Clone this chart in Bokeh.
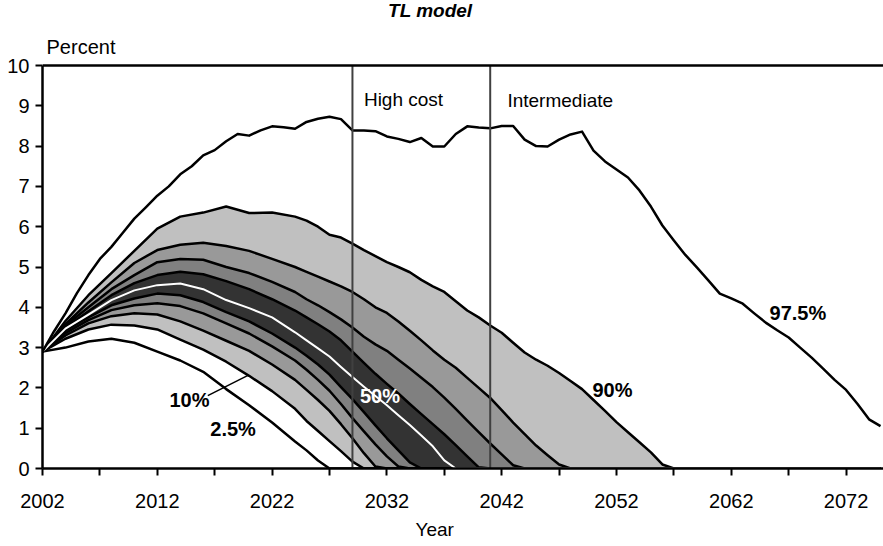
from bokeh.plotting import figure
from bokeh.models import Range1d, FixedTicker, Span, Label, Title
from bokeh.embed import file_html
from bokeh.resources import INLINE

# ---------------- data ----------------
fan_years = [2002, 2004, 2006, 2008, 2010, 2012, 2014, 2016, 2018, 2020, 2022, 2024,
             2025, 2026, 2027, 2028, 2029, 2030, 2031, 2032, 2033, 2034, 2035, 2036,
             2037, 2038, 2039, 2040, 2041, 2042, 2043, 2044, 2045, 2046, 2047, 2048,
             2049, 2050, 2051, 2052, 2053, 2054, 2055, 2056, 2057, 2058, 2075]

p2_5 = [2.9, 3.0, 3.15, 3.22, 3.12, 2.9, 2.68, 2.4, 1.97, 1.57, 1.14, 0.67,
        0.45, 0.2, 0, 0, 0, 0, 0, 0, 0, 0, 0, 0,
        0, 0, 0, 0, 0, 0, 0, 0, 0, 0, 0, 0,
        0, 0, 0, 0, 0, 0, 0, 0, 0, 0, 0]
p10 = [2.9, 3.22, 3.45, 3.57, 3.55, 3.45, 3.2, 2.95, 2.65, 2.3, 1.92, 1.48,
       1.18, 0.93, 0.68, 0.43, 0.17, 0, 0, 0, 0, 0, 0, 0,
       0, 0, 0, 0, 0, 0, 0, 0, 0, 0, 0, 0,
       0, 0, 0, 0, 0, 0, 0, 0, 0, 0, 0]
p20 = [2.9, 3.3, 3.6, 3.78, 3.85, 3.82, 3.65, 3.42, 3.17, 2.92, 2.58, 2.2,
       1.95, 1.7, 1.43, 1.1, 0.75, 0.38, 0.05, 0, 0, 0, 0, 0,
       0, 0, 0, 0, 0, 0, 0, 0, 0, 0, 0, 0,
       0, 0, 0, 0, 0, 0, 0, 0, 0, 0, 0]
p30 = [2.9, 3.36, 3.68, 3.93, 4.05, 4.1, 4.03, 3.85, 3.6, 3.35, 3.03, 2.68,
       2.45, 2.2, 1.93, 1.6, 1.25, 0.92, 0.6, 0.3, 0.05, 0, 0, 0,
       0, 0, 0, 0, 0, 0, 0, 0, 0, 0, 0, 0,
       0, 0, 0, 0, 0, 0, 0, 0, 0, 0, 0]
p40 = [2.9, 3.42, 3.75, 4.05, 4.22, 4.34, 4.3, 4.13, 3.88, 3.65, 3.35, 3.0,
       2.8, 2.58, 2.33, 2.02, 1.72, 1.4, 1.07, 0.75, 0.45, 0.15, 0, 0,
       0, 0, 0, 0, 0, 0, 0, 0, 0, 0, 0, 0,
       0, 0, 0, 0, 0, 0, 0, 0, 0, 0, 0]
p50 = [2.9, 3.47, 3.82, 4.18, 4.42, 4.55, 4.59, 4.45, 4.18, 3.98, 3.75, 3.38,
       3.18, 2.98, 2.78, 2.52, 2.27, 2.03, 1.8, 1.57, 1.32, 1.08, 0.82, 0.55,
       0.2, 0, 0, 0, 0, 0, 0, 0, 0, 0, 0, 0,
       0, 0, 0, 0, 0, 0, 0, 0, 0, 0, 0]
p60 = [2.9, 3.5, 3.9, 4.3, 4.6, 4.8, 4.88, 4.82, 4.65, 4.45, 4.2, 3.92,
       3.75, 3.58, 3.4, 3.18, 2.9, 2.62, 2.35, 2.1, 1.86, 1.6, 1.35, 1.1,
       0.85, 0.58, 0.3, 0.03, 0, 0, 0, 0, 0, 0, 0, 0,
       0, 0, 0, 0, 0, 0, 0, 0, 0, 0, 0]
p70 = [2.9, 3.54, 4.0, 4.45, 4.8, 5.12, 5.2, 5.18, 5.0, 4.85, 4.63, 4.38,
       4.2, 4.05, 3.88, 3.7, 3.5, 3.27, 3.08, 2.92, 2.7, 2.48, 2.25, 2.02,
       1.76, 1.48, 1.19, 0.9, 0.62, 0.35, 0.08, 0, 0, 0, 0, 0,
       0, 0, 0, 0, 0, 0, 0, 0, 0, 0, 0]
p80 = [2.9, 3.58, 4.12, 4.62, 5.1, 5.42, 5.55, 5.6, 5.52, 5.4, 5.2, 5.0,
       4.88, 4.76, 4.64, 4.52, 4.38, 4.2, 4.0, 3.86, 3.65, 3.42, 3.18, 2.93,
       2.7, 2.5, 2.25, 2.0, 1.75, 1.45, 1.14, 0.85, 0.57, 0.33, 0.1, 0,
       0, 0, 0, 0, 0, 0, 0, 0, 0, 0, 0]
p90 = [2.9, 3.66, 4.3, 4.85, 5.4, 5.95, 6.25, 6.35, 6.5, 6.34, 6.35, 6.25,
       6.15, 6.0, 5.8, 5.73, 5.58, 5.42, 5.27, 5.12, 5.0, 4.87, 4.68, 4.52,
       4.38, 4.15, 3.92, 3.75, 3.55, 3.37, 3.12, 2.88, 2.7, 2.55, 2.37, 2.17,
       1.97, 1.7, 1.43, 1.15, 0.9, 0.65, 0.4, 0.1, 0, 0, 0]

top_years = list(range(2002, 2076))
p97_5 = [2.9, 3.4, 3.85, 4.35, 4.8, 5.2, 5.5, 5.85, 6.2, 6.48,
         6.77, 7.0, 7.3, 7.5, 7.77, 7.9, 8.12, 8.3, 8.26, 8.39,
         8.49, 8.47, 8.43, 8.6, 8.68, 8.73, 8.67, 8.39, 8.39, 8.37,
         8.24, 8.18, 8.1, 8.2, 7.99, 7.99, 8.3, 8.49, 8.46, 8.44,
         8.5, 8.5, 8.16, 8.0, 7.99, 8.16, 8.29, 8.36, 7.89, 7.62,
         7.42, 7.22, 6.9, 6.5, 6.03, 5.66, 5.3, 4.99, 4.67, 4.34,
         4.22, 4.09, 3.85, 3.62, 3.43, 3.25, 3.0, 2.75, 2.48, 2.2,
         1.95, 1.6, 1.22, 1.05]

scenario_years = [2029, 2041]
scenario_names = ["High cost", "Intermediate"]

x_ticks = [2002, 2012, 2022, 2032, 2042, 2052, 2062, 2072]
x_minor = [2007, 2017, 2027, 2037, 2047, 2057, 2067]
y_ticks = [0, 1, 2, 3, 4, 5, 6, 7, 8, 9, 10]

# ---------------- figure ----------------
FONT = "Liberation Sans"
Y_TOP = 10          # top of the value axis
Y_VIEW = 11.613     # extra headroom above the axis for the title texts

p = figure(width=883, height=546, output_backend="svg", toolbar_location=None,
           title_location=None,
           x_range=Range1d(2002, 2075.26), y_range=Range1d(0, Y_VIEW),
           min_border_left=42, min_border_right=0, min_border_top=0,
           min_border_bottom=78)
p.outline_line_color = None
p.xgrid.visible = False
p.ygrid.visible = False
p.background_fill_color = "white"
p.border_fill_color = "white"

# bands
p.varea(x=fan_years, y1=p10, y2=p90, fill_color="#C0C0C0")
p.varea(x=fan_years, y1=p20, y2=p80, fill_color="#999999")
p.varea(x=fan_years, y1=p30, y2=p70, fill_color="#808080")
p.varea(x=fan_years, y1=p40, y2=p60, fill_color="#333333")

for series in [p2_5, p10, p20, p30, p40, p60, p70, p80, p90]:
    p.line(fan_years, series, line_color="black", line_width=2.5, line_join="round")
p.line(fan_years, p50, line_color="white", line_width=2, line_join="round")
p.line(top_years, p97_5, line_color="black", line_width=2.5, line_join="round")

# scenario markers, from the bottom to the top of the value axis
p.segment(x0=scenario_years, y0=[0] * len(scenario_years),
          x1=scenario_years, y1=[Y_TOP] * len(scenario_years),
          line_color="#404040", line_width=2)
p.add_layout(Span(location=Y_TOP, dimension="width", line_color="black", line_width=2.5))

# axes
for ax in (p.xaxis, p.yaxis):
    ax.axis_line_color = "black"
    ax.axis_line_width = 2.5
    ax.major_tick_line_color = "black"
    ax.major_tick_line_width = 2
    ax.minor_tick_line_color = "black"
    ax.minor_tick_line_width = 2
    ax.major_tick_in = 0
    ax.major_tick_out = 7
    ax.minor_tick_in = 0
    ax.minor_tick_out = 7
    ax.major_label_text_font = FONT
    ax.major_label_text_font_size = "20px"
    ax.major_label_text_color = "black"

p.xaxis.ticker = FixedTicker(ticks=x_ticks, minor_ticks=x_minor)
p.yaxis.ticker = FixedTicker(ticks=y_ticks, minor_ticks=[])
p.yaxis.bounds = (0, Y_TOP)
p.xaxis.major_label_standoff = 18
p.yaxis.major_label_standoff = 6

p.add_layout(Title(text="Year", align="left", offset=373, standoff=13,
                   text_font=FONT, text_font_size="19px", text_font_style="normal",
                   text_color="black"), "below")

# texts
def add_text(text, x, y, size="19px", style="normal", color="black", align="left"):
    p.add_layout(Label(x=x, y=y, text=text, text_font=FONT, text_font_size=size,
                       text_font_style=style, text_color=color, text_align=align,
                       text_baseline="middle"))

add_text("TL model", 2032.1, 11.365, size="19px", style="bold italic")
add_text("Percent", 2002.35, 10.47, size="20px")
add_text(scenario_names[0], 2030.0, 9.16)
add_text(scenario_names[1], 2042.5, 9.13)

add_text("10%", 2014.8, 1.69, size="20px", style="bold", align="center")
add_text("2.5%", 2018.6, 0.99, size="20px", style="bold", align="center")
add_text("50%", 2031.4, 1.79, size="20px", style="bold", color="white", align="center")
add_text("90%", 2051.65, 1.94, size="20px", style="bold", align="center")
add_text("97.5%", 2067.8, 3.85, size="20px", style="bold", align="center")

p.segment(x0=[2016.4], y0=[1.81], x1=[2019.9], y1=[2.31], line_color="black", line_width=1.5)

open("out.html", "w").write(file_html(p, INLINE))
